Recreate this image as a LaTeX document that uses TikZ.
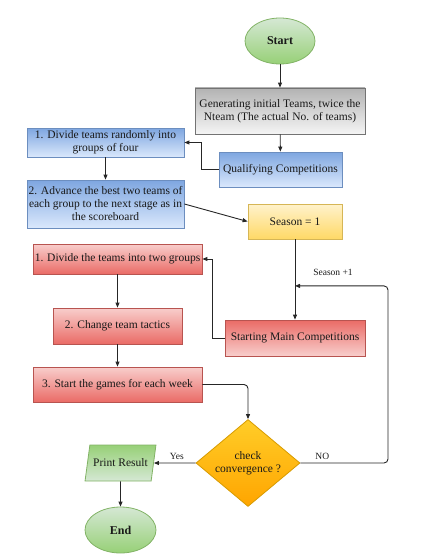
\documentclass[tikz,border=0pt]{standalone}
\usepackage{fontspec}
\setmainfont{Liberation Serif}
\usetikzlibrary{shapes.geometric,arrows.meta,positioning,calc}

\definecolor{blueTop}{HTML}{7EA6E0}
\definecolor{blueBot}{HTML}{DAE8FC}
\definecolor{blueLine}{HTML}{6C8EBF}
\definecolor{redTop}{HTML}{F8CECC}
\definecolor{redBot}{HTML}{EA6B66}
\definecolor{redLine}{HTML}{B85450}
\definecolor{yelTop}{HTML}{FFF2CC}
\definecolor{yelBot}{HTML}{FFD966}
\definecolor{yelLine}{HTML}{D6B656}
\definecolor{grnTop}{HTML}{D5E8D4}
\definecolor{grnBot}{HTML}{97D077}
\definecolor{grnLine}{HTML}{82B366}
\definecolor{orgTop}{HTML}{FFCD28}
\definecolor{orgBot}{HTML}{FFA500}
\definecolor{orgLine}{HTML}{D79B00}

\begin{document}
\begin{tikzpicture}[x=1pt, y=-1pt,
    every node/.style={font=\fontsize{11.5}{13}\selectfont, align=center, text=black!90},
    box/.style={rectangle, draw, line width=0.8pt, inner sep=1pt},
    bluebox/.style={box, draw=blueLine, top color=blueTop, bottom color=blueBot},
    redbox/.style={box, draw=redLine, top color=redTop, bottom color=redBot},
    redboxinv/.style={box, draw=redLine, top color=redBot, bottom color=redTop},
    terminal/.style={ellipse, draw=grnLine, line width=0.8pt, top color=grnTop, bottom color=grnBot, font=\fontsize{12}{14}\selectfont\bfseries},
    flow/.style={-{Triangle[length=5pt,width=4pt]}, line width=0.9pt, black!85},
    edgelabel/.style={font=\fontsize{9.5}{11}\selectfont}]
\useasboundingbox (0,0) rectangle (424,559);

% Start and set-up
\node[terminal, minimum width=70pt, minimum height=46pt] (start) at (280,41) {Start};
\node[box, draw=black!55, top color=black!30, bottom color=black!4,
      minimum width=170pt, minimum height=46pt] (gen) at (280,111)
      {Generating initial Teams, twice the\\Nteam (The actual No. of teams)};
\node[bluebox, minimum width=123pt, minimum height=35pt] (qual) at (280.5,169.5) {Qualifying Competitions};

% Qualifying steps
\node[bluebox, minimum width=157pt, minimum height=29pt] (divfour) at (105.5,142.5)
      {1. Divide teams randomly into\\groups of four};
\node[bluebox, minimum width=157pt, minimum height=48pt] (advance) at (105.5,204)
      {2. Advance the best two teams of\\each group to the next stage as in\\the scoreboard};
\node[box, draw=yelLine, top color=yelTop, bottom color=yelBot,
      minimum width=94pt, minimum height=35pt] (season) at (295,221.5) {Season = 1};

% Main competitions
\node[redbox, minimum width=169pt, minimum height=30pt] (divtwo) at (117.5,259) {1. Divide the teams into two groups};
\node[redbox, minimum width=129pt, minimum height=36pt] (tactics) at (117.5,326) {2. Change team tactics};
\node[redboxinv, minimum width=140pt, minimum height=36pt] (mainc) at (295,338) {Starting Main Competitions};
\node[redbox, minimum width=169pt, minimum height=35pt] (games) at (117.5,384.5) {3. Start the games for each week};

% Decision and end
\node[diamond, draw=orgLine, line width=0.8pt, top color=orgTop, bottom color=orgBot,
      minimum width=104pt, minimum height=87pt, aspect=1.2, inner sep=0pt] (check) at (248,463)
      {check\\convergence ?};
\node[trapezium, trapezium left angle=62, trapezium right angle=118, trapezium stretches=true,
      draw=grnLine, line width=0.8pt, top color=grnBot, bottom color=grnTop,
      minimum width=71pt, minimum height=36pt, inner sep=0pt] (print) at (120.5,463) {Print Result};
\node[terminal, minimum width=71pt, minimum height=46pt] (finish) at (120.5,530) {End};

\coordinate (loopin) at ($(season.south)!0.58!(mainc.north)$);

% Connections
\draw[flow] (start) -- (gen);
\draw[flow] (gen) -- (qual);
\draw[flow] (qual.west) -- ++(-17,0) |- (divfour.east);
\draw[flow] (divfour) -- (advance);
\draw[flow] (advance.east) -- (season.west);
\draw[flow] (season) -- (mainc);
\draw[flow] (mainc.west) -- ++(-12,0) |- (divtwo.east);
\draw[flow] (divtwo) -- (tactics);
\draw[flow] (tactics) -- (games);
\draw[flow, rounded corners=4pt] (games.east) -| (check.north);
\draw[flow] (check.west) -- node[edgelabel, above, pos=0.45] {Yes} (print.east);
\draw[flow] (print) -- (finish);
\draw[flow, rounded corners=4pt] (check.east) -- node[edgelabel, above, pos=0.25] {NO} (388,463) |- (loopin);
\node[edgelabel] (seasonplus) at (333,272) {Season +1};
\end{tikzpicture}
\end{document}
